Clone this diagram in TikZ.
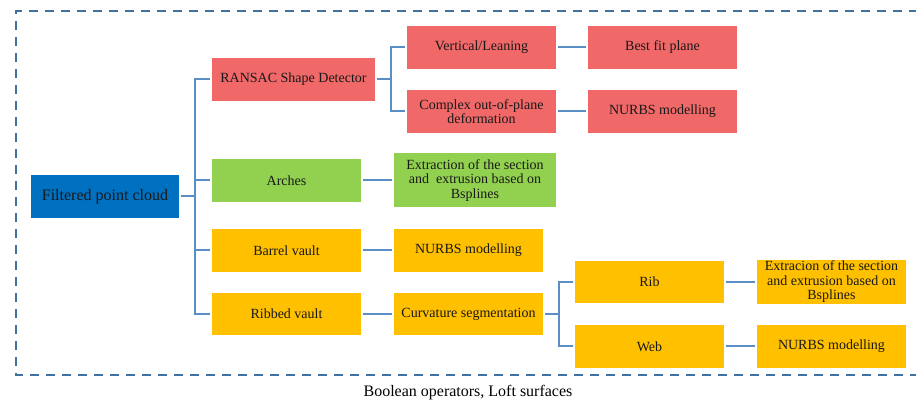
\documentclass[tikz,border=0pt]{standalone}
\usepackage{fontspec}
\setmainfont{Liberation Serif}
\definecolor{myred}{RGB}{240,104,104}
\definecolor{mygreen}{RGB}{146,208,80}
\definecolor{myyellow}{RGB}{255,192,0}
\definecolor{myblue}{RGB}{0,112,192}
\definecolor{mylink}{RGB}{91,141,198}
\definecolor{myframe}{RGB}{65,113,160}

\begin{document}
\begin{tikzpicture}[x=1pt,y=-1pt,
        box/.style={minimum width=149pt,minimum height=43pt,inner sep=1pt,outer sep=2pt,align=center,text=black!90,font=\fontsize{14}{14.5}\selectfont},
        link/.style={mylink,line width=2pt},
        frame/.style={myframe,line width=1.8pt,dash pattern=on 9pt off 7pt}]
        \useasboundingbox (0,0) rectangle (916,403);
        \draw[frame] (918,11) -- (16,11) -- (16,375) -- (918,375);
        \node[box,fill=myblue,minimum width=148pt,font=\fontsize{16}{18}\selectfont] (cloud) at (105,196.5) {Filtered point cloud};
        \node[box,fill=myred,minimum width=163pt] (ransac) at (293.5,79.5) {RANSAC Shape Detector};
        \node[box,fill=mygreen] (arches) at (286.5,180.5) {Arches};
        \node[box,fill=myyellow] (barrel) at (286.5,250.5) {Barrel vault};
        \node[box,fill=myyellow,minimum height=42pt] (ribbed) at (286.5,314) {Ribbed vault};
        \node[box,fill=myred] (vertical) at (481.5,47.5) {Vertical/Leaning};
        \node[box,fill=myred] (complex) at (481.5,111.5) {Complex out-of-plane\\deformation};
        \node[box,fill=myred] (bestfit) at (662.5,47.5) {Best fit plane};
        \node[box,fill=myred] (nurbsplane) at (662.5,111.5) {NURBS modelling};
        \node[box,fill=mygreen,minimum width=162pt,minimum height=54pt] (section) at (475,180.5) {Extraction of the section\\and\ \ extrusion based on\\Bsplines};
        \node[box,fill=myyellow] (nurbsbarrel) at (468.5,250.5) {NURBS modelling};
        \node[box,fill=myyellow,minimum height=42pt] (curvature) at (468.5,314) {Curvature segmentation};
        \node[box,fill=myyellow,minimum height=42pt] (rib) at (649.5,282) {Rib};
        \node[box,fill=myyellow] (web) at (649.5,346.5) {Web};
        \node[box,fill=myyellow,minimum height=42pt] (ribsection) at (831.5,282) {Extracion of the section\\and extrusion based on\\Bsplines};
        \node[box,fill=myyellow] (nurbsweb) at (831.5,346.5) {NURBS modelling};
        \node[font=\fontsize{16}{18}\selectfont] (caption) at (468,393) {Boolean operators, Loft surfaces};
        \coordinate (spineA) at ([xshift=14pt]cloud.east);
        \coordinate (spineB) at ([xshift=14pt]ransac.east);
        \coordinate (spineC) at ([xshift=14pt]curvature.east);
        \draw[link] (cloud.east) -- (spineA);
        \foreach \n in {ransac,arches,barrel,ribbed} \draw[link] (spineA) |- (\n.west);
        \draw[link] (ransac.east) -- (spineB);
        \foreach \n in {vertical,complex} \draw[link] (spineB) |- (\n.west);
        \draw[link] (curvature.east) -- (spineC);
        \foreach \n in {rib,web} \draw[link] (spineC) |- (\n.west);
        \draw[link] (vertical) -- (bestfit);
        \draw[link] (complex) -- (nurbsplane);
        \draw[link] (arches) -- (section);
        \draw[link] (barrel) -- (nurbsbarrel);
        \draw[link] (ribbed) -- (curvature);
        \draw[link] (rib) -- (ribsection);
        \draw[link] (web) -- (nurbsweb);
    \end{tikzpicture}
\end{document}
